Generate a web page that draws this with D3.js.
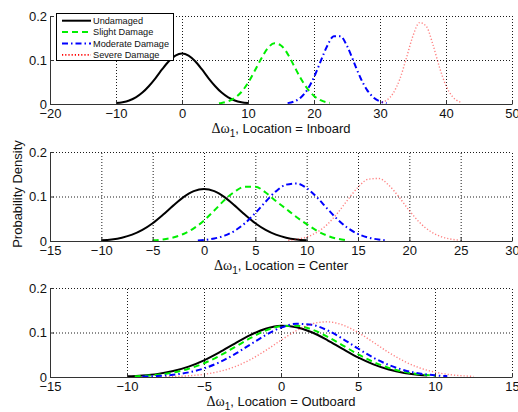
<!DOCTYPE html>
<html>
<head>
<meta charset="utf-8">
<script src="https://cdn.jsdelivr.net/npm/d3@7"></script>
<style>
  body { margin: 0; background: #fff; }
  svg { display: block; font-family: Arial, "Liberation Sans", sans-serif; }
  .tick text { font-size: 13px; fill: #111; }
</style>
</head>
<body>
<div id="container"></div>
<script>
// values (x = delta omega, y = probability density)
let seriesNames = ["Undamaged", "Slight Damage", "Moderate Damage", "Severe Damage"];
let yTicks = [0, 0.1, 0.2];

let inboardTicks = [-20, -10, 0, 10, 20, 30, 40, 50];
let inboardUndamaged = [[-10,0.002],[-9,0.004],[-8,0.008],[-7,0.015],[-6,0.026],[-5,0.041],[-4,0.059],[-3,0.079],[-2,0.097],[-1,0.110],[0,0.115],[1,0.110],[2,0.097],[3,0.079],[4,0.059],[5,0.041],[6,0.026],[7,0.015],[8,0.008],[9,0.004],[10,0.002]];
let inboardSlight = [[5.6,0.0016],[6,0.0025],[7,0.0062],[8,0.0138],[9,0.0273],[10,0.048],[11,0.0748],[12,0.103],[13,0.127],[14,0.138],[15,0.133],[16,0.114],[17,0.086],[18,0.058],[19,0.0347],[20,0.0184],[21,0.0087],[22,0.0036],[22.4,0.0025]];
let inboardModerate = [[16,0.002],[17,0.0059],[18,0.015],[19,0.0327],[20,0.0607],[21,0.0967],[22,0.132],[23,0.154],[24,0.154],[25,0.132],[26,0.0967],[27,0.0607],[28,0.0327],[29,0.015],[30,0.0059],[31,0.002]];
let inboardSevere = [[30.3,0.0036],[31,0.0085],[32,0.0245],[33,0.0565],[34,0.1046],[35,0.155],[36,0.185],[37,0.177],[38,0.136],[39,0.084],[40,0.0415],[41,0.0165],[42,0.0053],[42.4,0.0031]];

let centerTicks = [-15, -10, -5, 0, 5, 10, 15, 20, 25, 30];
let centerUndamaged = [[-10,0.0016],[-9,0.0036],[-8,0.0075],[-7,0.0142],[-6,0.0249],[-5,0.0399],[-4,0.0588],[-3,0.0795],[-2,0.0985],[-1,0.112],[0,0.117],[1,0.112],[2,0.0985],[3,0.0795],[4,0.0588],[5,0.0399],[6,0.0249],[7,0.0142],[8,0.0075],[9,0.0036],[10,0.0016]];
let centerSlight = [[-5,0.0015],[-4,0.0036],[-3,0.0079],[-2,0.0157],[-1,0.0283],[0,0.046],[1,0.0685],[2,0.092],[3,0.111],[4,0.122],[5,0.122],[6,0.109],[7,0.09],[8,0.072],[9,0.054],[10,0.038],[11,0.023],[12,0.012],[13,0.005],[13.8,0.002]];
let centerModerate = [[-0.6,0.0013],[0,0.0023],[1,0.0056],[2,0.012],[3,0.0232],[4,0.0402],[5,0.0629],[6,0.0883],[7,0.1115],[8,0.1266],[9,0.1294],[10,0.1188],[11,0.0982],[12,0.0729],[13,0.0487],[14,0.0293],[15,0.0158],[16,0.0077],[17,0.0034],[17.6,0.0019]];
let centerSevere = [[8.2,0.0016],[9,0.0037],[10,0.009],[11,0.0195],[12,0.0372],[13,0.0625],[14,0.0926],[15,0.1207],[16,0.1388],[17,0.1406],[18,0.1254],[19,0.0986],[20,0.0683],[21,0.0417],[22,0.0224],[23,0.0106],[24,0.0044],[24.9,0.0018]];

let outboardTicks = [-15, -10, -5, 0, 5, 10, 15];
let outboardUndamaged = [[-10,0.0015],[-9,0.0034],[-8,0.007],[-7,0.0134],[-6,0.0233],[-5,0.0375],[-4,0.0553],[-3,0.0752],[-2,0.0941],[-1,0.1083],[0,0.1149],[1,0.112],[2,0.1005],[3,0.0831],[4,0.0631],[5,0.044],[6,0.0285],[7,0.0169],[8,0.0092],[9,0.0046],[9.5,0.0032]];
let outboardSlight = [[-9.5,0.0016],[-9,0.0024],[-8,0.0051],[-7,0.0101],[-6,0.0184],[-5,0.0309],[-4,0.0474],[-3,0.0671],[-2,0.0872],[-1,0.1042],[0,0.1142],[1,0.1152],[2,0.1068],[3,0.0909],[4,0.0712],[5,0.0512],[6,0.0338],[7,0.0206],[8,0.0115],[9,0.0059],[10,0.0028]];
let outboardModerate = [[-9,0.0009],[-8,0.0023],[-7,0.0051],[-6,0.0104],[-5,0.0194],[-4,0.033],[-3,0.0514],[-2,0.0728],[-1,0.0941],[0,0.111],[1,0.1195],[2,0.1173],[3,0.1051],[4,0.0859],[5,0.064],[6,0.0435],[7,0.027],[8,0.0153],[9,0.0079],[10,0.0037],[10.8,0.0019]];
let outboardSevere = [[-7.5,0.0007],[-7,0.0011],[-6,0.0027],[-5,0.0061],[-4,0.0124],[-3,0.0231],[-2,0.0389],[-1,0.0595],[0,0.0826],[1,0.1042],[2,0.1193],[3,0.124],[4,0.117],[5,0.1002],[6,0.078],[7,0.055],[8,0.0353],[9,0.0205],[10,0.0109],[11,0.0052],[12,0.0023],[12.5,0.0014]];


let w = 518;
let h = 412;
let left = 50;
let right = 512;

// one style per damage level: colour, width, dash pattern, opacity on the plot
let styles = [
  {color: "#000000", width: 2, dash: null, op: 1},
  {color: "#00ee00", width: 2, dash: "6,4", op: 1},
  {color: "#0000ff", width: 2, dash: "6,3,1.5,3", op: 1},
  {color: "#ff0000", width: 1.4, dash: "1.2,2", op: 0.5}
];

let panels = [
  {loc: "Inboard", ticks: inboardTicks, top: 16, bottom: 104, series: [inboardUndamaged, inboardSlight, inboardModerate, inboardSevere]},
  {loc: "Center", ticks: centerTicks, top: 152, bottom: 241, series: [centerUndamaged, centerSlight, centerModerate, centerSevere]},
  {loc: "Outboard", ticks: outboardTicks, top: 288, bottom: 377, series: [outboardUndamaged, outboardSlight, outboardModerate, outboardSevere]}
];

let viz = d3.select("#container")
  .append("svg")
    .attr("width", w)
    .attr("height", h)
;

panels.forEach(function(p){
  let xScale = d3.scaleLinear()
    .domain(d3.extent(p.ticks))
    .range([left, right]);
  let yScale = d3.scaleLinear()
    .domain([0, 0.2])
    .range([p.bottom, p.top]);

  let g = viz.append("g").attr("class", "panel");

  // dotted grid
  let xGrid = g.append("g")
    .attr("transform", "translate(0," + p.bottom + ")")
    .call(d3.axisBottom(xScale).tickValues(p.ticks).tickSize(-(p.bottom - p.top)).tickFormat(""));
  let yGrid = g.append("g")
    .attr("transform", "translate(" + left + ",0)")
    .call(d3.axisLeft(yScale).tickValues(yTicks).tickSize(-(right - left)).tickFormat(""));
  [xGrid, yGrid].forEach(function(gr){
    gr.select(".domain").remove();
    gr.selectAll("line")
      .attr("stroke", "#000")
      .attr("stroke-width", 0.9)
      .attr("stroke-dasharray", "1,2");
  });

  let lineMaker = d3.line()
    .x(function(d){ return xScale(d[0]); })
    .y(function(d){ return yScale(d[1]); })
    .curve(d3.curveMonotoneX);

  g.selectAll(".curve").data(p.series).enter()
    .append("path")
      .attr("class", "curve")
      .attr("d", lineMaker)
      .attr("fill", "none")
      .attr("stroke", function(d, i){ return styles[i].color; })
      .attr("stroke-width", function(d, i){ return styles[i].width; })
      .attr("stroke-dasharray", function(d, i){ return styles[i].dash; })
      .attr("stroke-opacity", function(d, i){ return styles[i].op; })
  ;

  // axes with inward ticks
  let xAxis = d3.axisBottom(xScale)
    .tickValues(p.ticks)
    .tickSizeInner(-4)
    .tickSizeOuter(0)
    .tickPadding(5)
    .tickFormat(d3.format("d"));
  g.append("g")
    .attr("transform", "translate(0," + p.bottom + ")")
    .call(xAxis);

  let yAxis = d3.axisLeft(yScale)
    .tickValues(yTicks)
    .tickSizeInner(-4)
    .tickSizeOuter(0)
    .tickPadding(3)
    .tickFormat(function(d){ return d === 0 ? "0" : d3.format(".1f")(d); });
  g.append("g")
    .attr("transform", "translate(" + left + ",0)")
    .call(yAxis);

  g.selectAll(".domain").attr("stroke", "#333");
  g.selectAll(".tick line").filter(function(){ return !this.getAttribute("stroke-dasharray"); })
    .attr("stroke", "#333");

  // x label: delta omega with subscript 1
  let label = g.append("text")
    .attr("x", (left + right) / 2)
    .attr("y", p.bottom + 29)
    .attr("text-anchor", "middle")
    .attr("font-size", 13)
    .attr("fill", "#111");
  label.append("tspan")
    .attr("font-family", "'Times New Roman', 'Liberation Serif', serif")
    .attr("font-size", 14)
    .text("Δω");
  label.append("tspan")
    .attr("font-size", 10)
    .attr("dy", 4)
    .text("1");
  label.append("tspan")
    .attr("dy", -4)
    .text(", Location = " + p.loc);
});

// y label
viz.append("text")
  .attr("transform", "translate(21.5,194) rotate(-90)")
  .attr("text-anchor", "middle")
  .attr("font-size", 13)
  .attr("fill", "#111")
  .text("Probability Density");

// legend in the top panel
let legend = viz.append("g").attr("class", "legend");
legend.append("rect")
  .attr("x", 56.5)
  .attr("y", 13.5)
  .attr("width", 117)
  .attr("height", 47)
  .attr("fill", "#fff")
  .attr("stroke", "#000")
  .attr("stroke-width", 1);

let rows = legend.selectAll(".row").data(seriesNames).enter()
  .append("g")
    .attr("class", "row")
    .attr("transform", function(d, i){ return "translate(0," + (20.7 + i * 11.4) + ")"; });
rows.append("line")
  .attr("x1", 62)
  .attr("x2", 91)
  .attr("stroke", function(d, i){ return styles[i].color; })
  .attr("stroke-width", function(d, i){ return i == 3 ? 1.6 : styles[i].width; })
  .attr("stroke-dasharray", function(d, i){ return styles[i].dash; });
rows.append("text")
  .attr("x", 93)
  .attr("dy", "0.35em")
  .attr("font-size", 9.2)
  .attr("fill", "#111")
  .text(function(d){ return d; });
</script>
</body>
</html>
